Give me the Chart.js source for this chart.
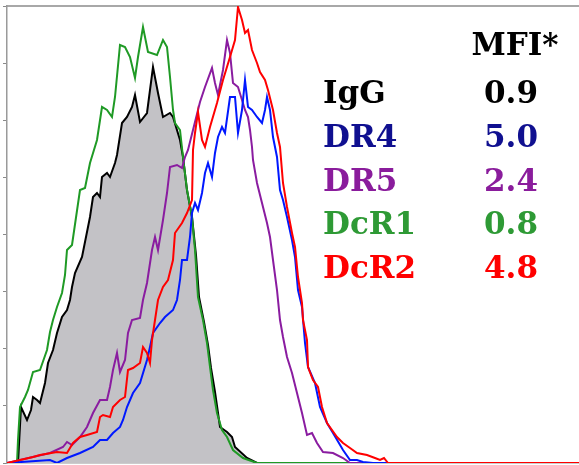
<!DOCTYPE html>
<html>
<head>
<meta charset="utf-8">
<script src="https://cdn.jsdelivr.net/npm/chart.js@4.4.1/dist/chart.umd.min.js"></script>
<style>
  html,body{margin:0;padding:0;background:#fff;}
  #wrap{width:579px;height:465px;position:relative;}
</style>
</head>
<body>
<div id="wrap"><canvas id="hist"></canvas></div>
<script>
// fluorescence channel (x) vs events (y)
const igG = [[0,0],[11,0],[14,56],[20,43],[24,53],[26,66],[30,63],[33,60],[38,80],[41,100],[46,113],[50,130],[55,146],[60,153],[63,163],[65,176],[68,190],[75,206],[83,246],[86,266],[90,270],[93,266],[95,286],[100,290],[103,286],[108,300],[110,308],[115,340],[120,346],[125,356],[128,368],[133,341],[140,350],[146,396],[151,370],[156,346],[163,350],[166,346],[173,323],[176,306],[180,273],[185,246],[189,208],[192,166],[197,141],[201,118],[204,95],[208,71],[213,36],[220,31],[225,26],[228,16],[240,5],[250,0],[572,0]];
const dcR1 = [[0,0],[10,0],[11,23],[13,56],[18,66],[21,73],[26,91],[33,93],[40,113],[43,131],[46,143],[50,156],[55,170],[58,188],[60,213],[65,218],[73,273],[78,275],[83,300],[90,323],[95,356],[100,353],[105,346],[108,366],[113,418],[118,416],[123,406],[128,385],[131,406],[136,436],[141,411],[150,408],[156,423],[160,416],[163,386],[166,353],[168,340],[173,333],[176,306],[180,273],[185,246],[188,213],[191,166],[196,143],[200,120],[203,96],[206,73],[210,50],[215,33],[220,26],[226,13],[236,5],[250,0],[572,0]];
const dr5 = [[0,0],[13,3],[43,10],[56,16],[60,21],[65,18],[73,26],[80,36],[86,50],[93,63],[100,63],[103,76],[106,93],[110,110],[113,91],[118,103],[121,130],[125,143],[133,145],[136,163],[140,180],[145,213],[148,226],[151,213],[156,243],[160,270],[163,296],[170,298],[175,295],[178,306],[181,313],[186,333],[193,361],[198,376],[205,395],[208,380],[211,368],[216,393],[220,423],[223,410],[226,380],[231,376],[235,363],[238,353],[241,346],[243,333],[245,316],[246,303],[250,280],[255,260],[260,240],[263,226],[266,203],[270,173],[273,143],[276,126],[280,106],[285,90],[290,70],[295,50],[300,28],[305,30],[310,20],[316,11],[326,10],[336,5],[343,0],[572,0]];
const dr4 = [[0,0],[43,3],[50,0],[60,5],[73,10],[86,16],[93,23],[100,23],[106,30],[113,36],[116,43],[120,56],[126,70],[133,80],[140,103],[143,116],[146,130],[153,140],[158,146],[166,153],[170,163],[173,183],[175,203],[180,203],[183,226],[185,250],[188,260],[191,253],[195,270],[198,290],[201,300],[205,286],[208,310],[211,326],[215,336],[218,330],[223,366],[228,366],[231,330],[235,353],[238,383],[241,356],[245,353],[250,346],[255,340],[258,353],[260,366],[263,353],[266,326],[270,306],[273,273],[276,263],[280,246],[285,223],[288,206],[291,173],[295,156],[298,120],[301,96],[308,80],[313,56],[320,40],[326,30],[336,13],[343,3],[350,3],[356,1],[366,0],[572,0]];
const dcR2 = [[0,0],[26,6],[33,8],[50,11],[60,10],[66,20],[73,26],[80,28],[90,31],[93,46],[96,48],[103,46],[106,56],[113,63],[118,66],[121,93],[126,95],[133,100],[136,116],[140,110],[143,100],[145,123],[148,143],[151,163],[156,176],[161,183],[166,203],[168,230],[175,240],[180,250],[185,263],[186,313],[188,330],[191,351],[195,323],[198,316],[203,336],[210,360],[216,383],[223,406],[228,423],[231,456],[235,443],[238,430],[241,433],[245,413],[250,400],[253,391],[258,383],[261,373],[266,353],[270,330],[273,316],[276,280],[280,256],[285,230],[288,216],[291,186],[295,160],[296,143],[300,123],[301,96],[306,83],[311,76],[315,56],[320,40],[330,26],[336,20],[343,15],[350,10],[360,8],[368,5],[373,3],[377,5],[381,0],[572,0]];

const labels = ['IgG','DR4','DR5','DcR1','DcR2'];
const mfi = ['0.9','5.0','2.4','0.8','4.8'];
const textColors = ['#000000','#101090','#8a1c9c','#2e9a35','#ff0000'];

const pts = a => a.map(p => ({x:p[0], y:p[1]}));

const tablePlugin = {
  id:'mfiTable',
  afterDraw(chart){
    const ctx = chart.ctx;
    ctx.save();
    ctx.font = 'bold 31px "DejaVu Serif"';
    ctx.textBaseline = 'alphabetic';
    ctx.fillStyle = '#000';
    ctx.textAlign = 'center';
    ctx.fillText('MFI*', 515, 55);
    labels.forEach((l,i)=>{
      const yb = 103 + i*43.75;
      ctx.fillStyle = textColors[i];
      ctx.textAlign = 'left';
      ctx.fillText(l, 323, yb);
      ctx.textAlign = 'center';
      ctx.fillText(mfi[i], 511, yb);
    });
    ctx.restore();
  }
};

new Chart(document.getElementById('hist'), {
  type:'line',
  data:{ datasets:[
    {label:'DcR2', data:pts(dcR2), borderColor:'#ff0000', borderWidth:2, pointRadius:0, fill:false},
    {label:'DR4', data:pts(dr4), borderColor:'#0018ff', borderWidth:2, pointRadius:0, fill:false},
    {label:'DR5', data:pts(dr5), borderColor:'#8a1ca0', borderWidth:2, pointRadius:0, fill:false},
    {label:'DcR1', data:pts(dcR1), borderColor:'#1f9a25', borderWidth:2, pointRadius:0, fill:false},
    {label:'IgG', data:pts(igG), borderColor:'#000000', borderWidth:2, pointRadius:0, fill:'origin', backgroundColor:'#c3c2c6'},
  ]},
  options:{
    responsive:true, maintainAspectRatio:false, animation:false,
    layout:{padding:{left:3, top:6, right:0, bottom:2}},
    plugins:{legend:{display:false}, tooltip:{enabled:false}},
    scales:{
      x:{type:'linear', min:0, max:572, ticks:{display:false}, grid:{display:false, drawTicks:false}, border:{color:'#9a9a9a', width:1.5}},
      xTop:{type:'linear', position:'top', min:0, max:572, ticks:{display:false}, grid:{display:false, drawTicks:false}, border:{color:'#a8a8a8', width:2}},
      y:{min:0, max:457, ticks:{display:false, stepSize:57.125}, grid:{drawOnChartArea:false, drawTicks:true, tickLength:4, color:'#8a8a8a'}, border:{color:'#9a9a9a', width:1.5}}
    }
  },
  plugins:[tablePlugin]
});
</script>
</body>
</html>
